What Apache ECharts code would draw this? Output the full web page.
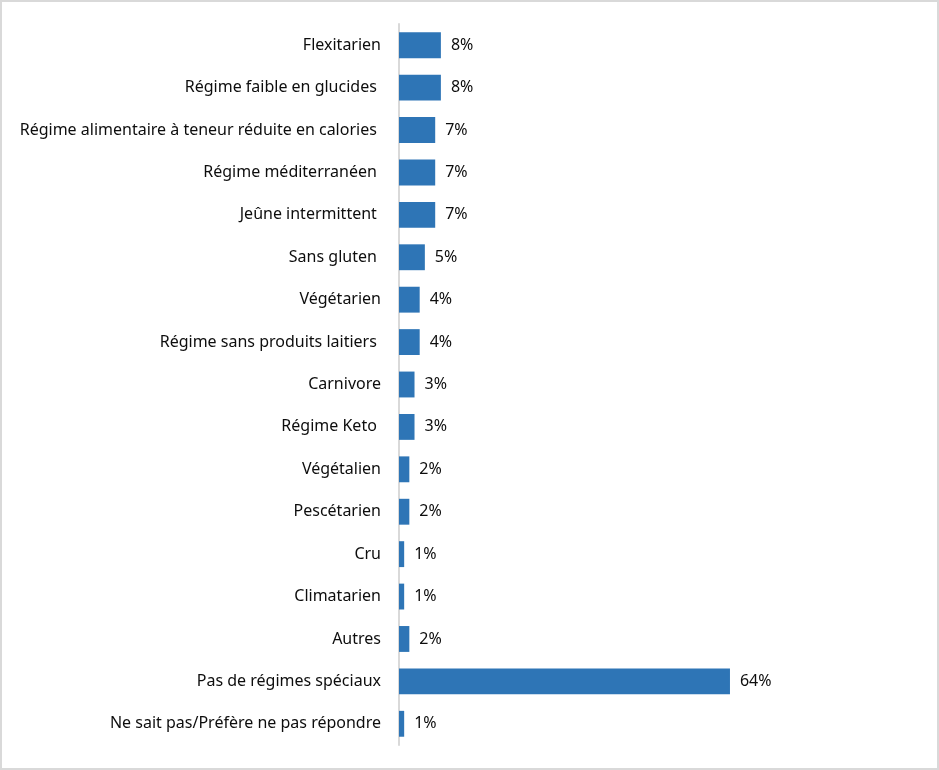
<!DOCTYPE html>
<html>
<head>
<meta charset="utf-8">
<script src="https://cdn.jsdelivr.net/npm/echarts@6/dist/echarts.min.js"></script>
<style>
  html, body { margin: 0; padding: 0; background: #fff; }
  #main { width: 939px; height: 770px; }
</style>
</head>
<body>
<div id="main"></div>
<script>
var categories = [
  'Flexitarien',
  'Régime faible en glucides ',
  'Régime alimentaire à teneur réduite en calories ',
  'Régime méditerranéen ',
  'Jeûne intermittent ',
  'Sans gluten ',
  'Végétarien',
  'Régime sans produits laitiers ',
  'Carnivore',
  'Régime Keto ',
  'Végétalien',
  'Pescétarien',
  'Cru',
  'Climatarien',
  'Autres',
  'Pas de régimes spéciaux',
  'Ne sait pas/Préfère ne pas répondre'
];
var values = [8.1, 8.1, 7, 7, 7, 5, 4, 4, 3, 3, 2, 2, 1, 1, 2, 64, 1];
var labels = ['8%', '8%', '7%', '7%', '7%', '5%', '4%', '4%', '3%', '3%', '2%', '2%', '1%', '1%', '2%', '64%', '1%'];

var chart = echarts.init(document.getElementById('main'));
var font = 'Noto Sans';

var option = {
  animation: false,
  graphic: [{
    type: 'rect',
    shape: { x: 1, y: 1, width: 937, height: 768 },
    style: { fill: 'none', stroke: '#d9d9d9', lineWidth: 2 },
    silent: true
  }],
  grid: { left: 399, right: 178, top: 24, bottom: 25 },
  xAxis: {
    type: 'value',
    min: 0,
    max: 70,
    show: false
  },
  yAxis: {
    type: 'category',
    inverse: true,
    data: categories,
    axisLine: { show: true, lineStyle: { color: '#d9d9d9', width: 2 } },
    axisTick: { show: false },
    axisLabel: { color: '#0d0d0d', fontSize: 16, fontFamily: font, margin: 18 }
  },
  series: [{
    type: 'bar',
    data: values,
    barCategoryGap: '39%',
    itemStyle: { color: '#2e75b6' },
    label: {
      show: true,
      position: 'right',
      distance: 10,
      color: '#0d0d0d',
      fontSize: 16,
      fontFamily: font,
      formatter: function (p) { return labels[p.dataIndex]; }
    }
  }]
};
chart.setOption(option);
</script>
</body>
</html>
